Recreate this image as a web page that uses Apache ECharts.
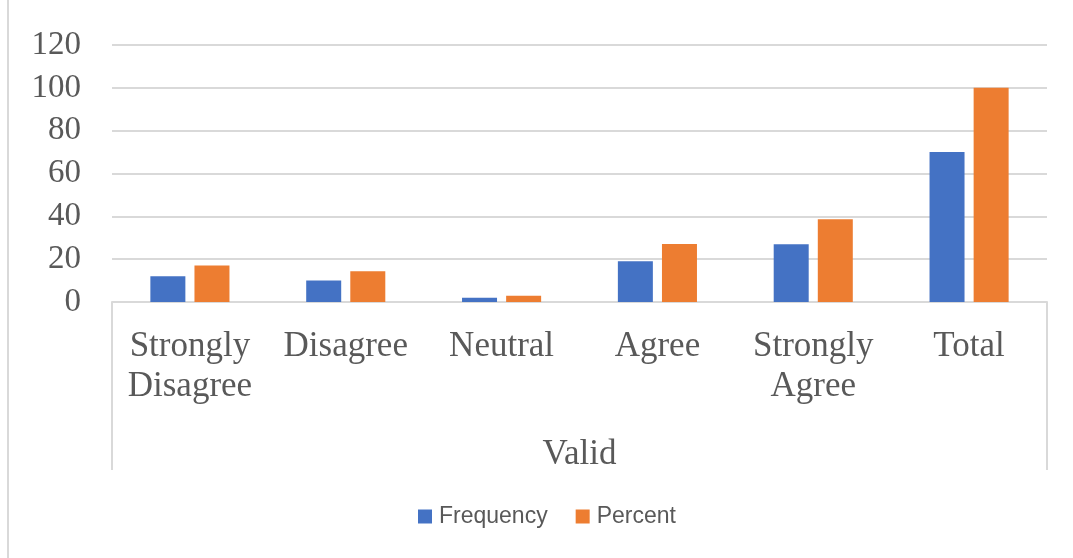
<!DOCTYPE html>
<html><head><meta charset="utf-8">
<script src="https://cdn.jsdelivr.net/npm/echarts@6/dist/echarts.min.js"></script>
<style>html,body{margin:0;padding:0;background:#fff}#c{width:1073px;height:558px;position:relative}
#b{position:absolute;left:7px;top:0;width:2px;height:558px;background:#d9d9d9}</style>
</head><body><div id="c"></div><div id="b"></div>
<script>
const categories = ['Strongly Disagree', 'Disagree', 'Neutral', 'Agree', 'Strongly Agree', 'Total'];
const groupLabels = ['Valid'];
const frequency = [12, 10, 2, 19, 27, 70];
const percent = [17.1, 14.3, 2.9, 27.1, 38.6, 100];
const seriesNames = ['Frequency', 'Percent'];
const yMin = 0, yMax = 120, yStep = 20;

const chart = echarts.init(document.getElementById('c'), null, {renderer: 'canvas'});
const serif = 'Liberation Serif';
chart.setOption({
  animation: false,
  backgroundColor: '#fff',
  grid: {left: 112, right: 26, top: 45, bottom: 256, containLabel: false},
  legend: {
    bottom: 25, left: 413, icon: 'rect', itemWidth: 14, itemHeight: 14, itemGap: 28,
    textStyle: {fontFamily: 'Liberation Sans', fontSize: 23, color: '#595959', padding: [0, 0, 0, 2]},
    data: seriesNames
  },
  xAxis: [{
    type: 'category', data: categories,
    axisLine: {show: true, lineStyle: {color: '#d9d9d9', width: 2}},
    axisTick: {show: false},
    axisLabel: {interval: 0, margin: 25, fontFamily: serif, fontSize: 35, color: '#595959', lineHeight: 40,
      formatter: v => v.replace(' ', '\n')}
  }, {
    type: 'category', data: groupLabels, position: 'bottom',
    axisLine: {show: false},
    axisTick: {show: true, length: 168, lineStyle: {color: '#d9d9d9', width: 2}},
    axisLabel: {margin: 135, fontFamily: serif, fontSize: 35, color: '#595959'}
  }],
  yAxis: {
    type: 'value', min: yMin, max: yMax, interval: yStep,
    axisLine: {show: false}, axisTick: {show: false},
    splitLine: {lineStyle: {color: '#d9d9d9', width: 2}},
    axisLabel: {margin: 31, fontFamily: serif, fontSize: 33, color: '#595959'}
  },
  series: [{
    name: seriesNames[0], type: 'bar', xAxisIndex: 0, data: frequency, barWidth: 35, barGap: '26%',
    itemStyle: {color: '#4472C4'}
  }, {
    name: seriesNames[1], type: 'bar', xAxisIndex: 0, data: percent, barWidth: 35, barGap: '26%',
    itemStyle: {color: '#ED7D31'}
  }]
});
</script></body></html>
